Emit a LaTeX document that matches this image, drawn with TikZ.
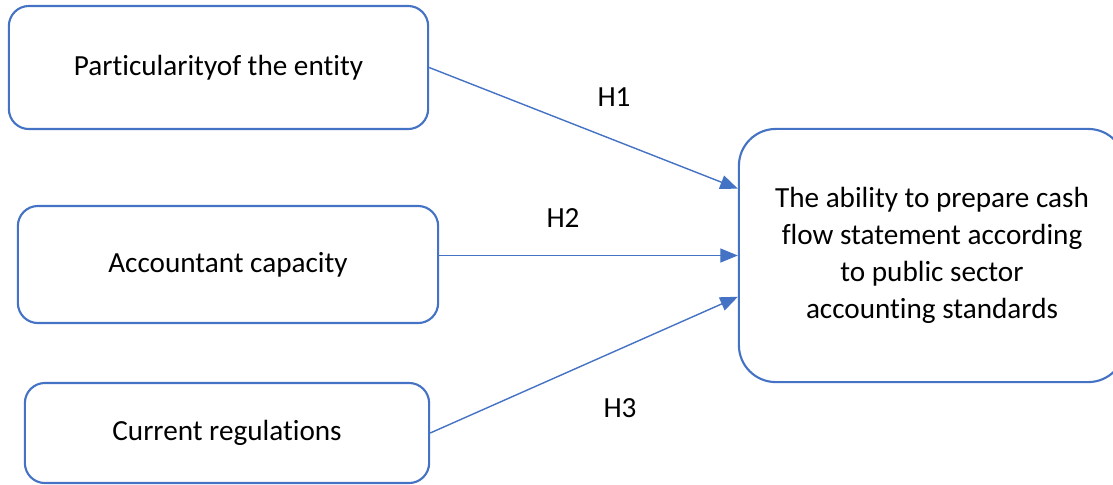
\documentclass[tikz,border=0pt]{standalone}
\usepackage{fontspec}
\setmainfont[Ligatures=NoCommon]{Carlito}
\usetikzlibrary{positioning, arrows.meta}
\definecolor{boxblue}{HTML}{4472C4}

\begin{document}
\begin{tikzpicture}[x=0.01cm, y=-0.01cm, >={Triangle[length=5pt, width=4pt]},
    every node/.style={font=\fontsize{8.3}{10.5}\selectfont},
    factor/.style={draw=boxblue, line width=0.6pt, rounded corners=5.7pt, align=center},
    link/.style={->, draw=boxblue, line width=0.4pt}]
    \useasboundingbox (0,0) rectangle (1113,484);

    \node[factor, minimum width=4.19cm, minimum height=1.23cm] (entity) at (218.5,67.5) {Particularityof the entity};
    \node[factor, minimum width=4.20cm, minimum height=1.17cm] (capacity) at (228,264.5) {Accountant capacity};
    \node[factor, minimum width=4.04cm, minimum height=1.00cm] (rules) at (227,433) {Current regulations};
    \node[factor, rounded corners=10.5pt, minimum width=3.86cm, minimum height=2.53cm] (goal) at (932,255.5)
        {The ability to prepare cash\\flow statement according\\to public sector\\accounting standards};

    \draw[link] (entity.east) -- (goal.161);
    \draw[link] (capacity.east |- goal.west) -- (goal.west);
    \draw[link] (rules.east) -- (goal.192);

    \node (h1) at (614,97) {H1};
    \node (h2) at (563,218) {H2};
    \node (h3) at (620,408) {H3};
\end{tikzpicture}
\end{document}
